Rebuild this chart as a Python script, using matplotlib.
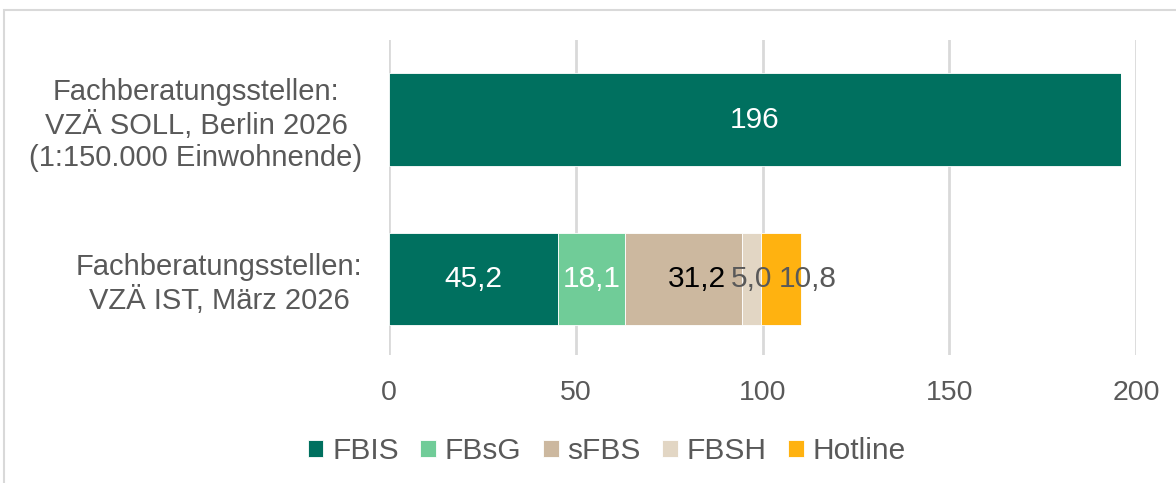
import matplotlib
matplotlib.use("Agg")
import matplotlib.pyplot as plt
from matplotlib.patches import Rectangle

plt.rcParams['font.family'] = ['Liberation Sans', 'DejaVu Sans']

categories = ["Fachberatungsstellen:\nVZÄ IST, März 2026",
              "Fachberatungsstellen:\nVZÄ SOLL, Berlin 2026\n(1:150.000 Einwohnende)"]
series = ["FBIS", "FBsG", "sFBS", "FBSH", "Hotline"]
values = {
    "FBIS":    [45.2, 196],
    "FBsG":    [18.1, 0],
    "sFBS":    [31.2, 0],
    "FBSH":    [5.0, 0],
    "Hotline": [10.8, 0],
}
value_labels = {
    "FBIS":    ["45,2", "196"],
    "FBsG":    ["18,1", ""],
    "sFBS":    ["31,2", ""],
    "FBSH":    ["5,0", ""],
    "Hotline": ["10,8", ""],
}
colors = {"FBIS": "#00705F", "FBsG": "#70CC98", "sFBS": "#CCB89F",
          "FBSH": "#E2D6C4", "Hotline": "#FFB210"}
label_colors = {"FBIS": "white", "FBsG": "white", "sFBS": "black",
                "FBSH": "#595959", "Hotline": "#595959"}
# horizontal nudges (points) applied by the original chart to avoid overlaps
label_nudge = {"FBIS": 0, "FBsG": 0, "sFBS": 9.5, "FBSH": 0, "Hotline": 19.5}
xticks = [0, 50, 100, 150, 200]

fig = plt.figure(figsize=(11.76, 4.83), dpi=100)
ax = fig.add_axes([389/1176, 1-355/483, (1136-389)/1176, 315/483])

# outer chart frame
fig.patches.append(Rectangle((4/1176, -0.05), 1.2, 1-10/483+0.05, transform=fig.transFigure,
                             fill=False, edgecolor="#D9D9D9", linewidth=1.5))

ypos = list(range(len(categories)))
left = [0.0] * len(categories)
handles = []
for s in series:
    vals = values[s]
    bars = ax.barh(ypos, vals, left=left, height=0.58, color=colors[s],
                   edgecolor="white", linewidth=0.6, label=s, zorder=3)
    handles.append(bars)
    for i, v in enumerate(vals):
        if v > 0:
            ax.annotate(value_labels[s][i], (left[i] + v / 2, i),
                        xytext=(label_nudge[s], 0), textcoords="offset points",
                        ha="center", va="center",
                        color=label_colors[s], fontsize=21.5, zorder=4)
    left = [l + v for l, v in zip(left, vals)]

ax.set_xlim(0, 200)
ax.set_ylim(-0.48, 1.5)
ax.set_xticks(xticks)
ax.set_xticklabels([str(t) for t in xticks])
ax.set_yticks(ypos)
ax.set_yticklabels(categories, multialignment="center", linespacing=1.22)
ax.tick_params(axis="x", length=0, pad=18, labelsize=20.5, labelcolor="#595959")
ax.tick_params(axis="y", length=0, pad=19, labelsize=21, labelcolor="#595959")
for sp in ax.spines.values():
    sp.set_visible(False)
ax.xaxis.grid(True, color="#D9D9D9", linewidth=2, zorder=0)
ax.set_axisbelow(True)

leg = fig.legend(handles=handles, labels=series, loc="center", bbox_to_anchor=(607/1176, 1-451/483),
                 ncol=5, frameon=False, fontsize=21.5, labelcolor="#595959",
                 handlelength=0.52, handleheight=0.52, handletextpad=0.3, columnspacing=0.72)

fig.savefig("out.png", dpi=100)
